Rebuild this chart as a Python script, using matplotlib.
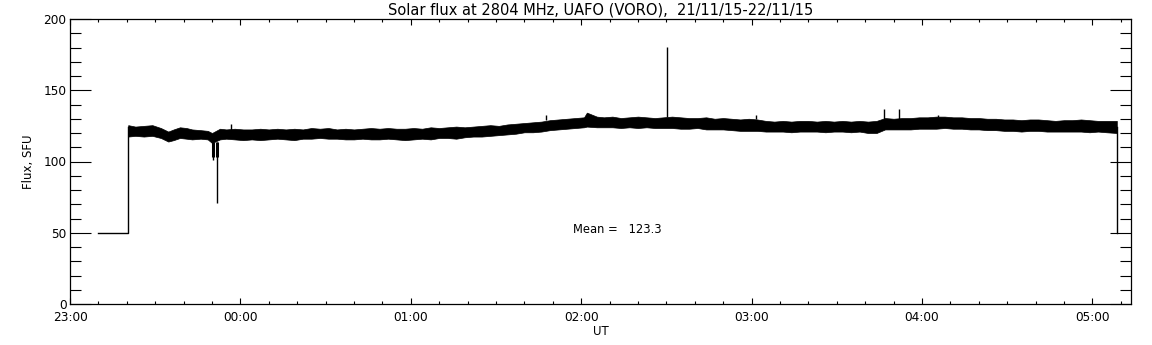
import matplotlib
matplotlib.use("Agg")
import matplotlib.pyplot as plt
from matplotlib.ticker import MultipleLocator, FixedLocator

# time in minutes after 23:00 UT (21/11/15)
band_t = [20.5, 23, 26, 29, 32, 34.6, 36.5, 38.7, 41, 43, 46, 48.5, 50,
          52.8, 55, 58, 61, 64, 67, 70, 73, 76, 79, 82, 85, 88, 91, 94, 97,
          100, 103, 106, 109, 112, 115, 118, 121, 124, 127, 130, 133, 136,
          139, 142, 145, 148, 151, 154, 157, 160, 163, 166, 169, 172, 175,
          178, 181, 182, 185.5, 188, 191, 194, 197, 200, 203, 206, 209, 212,
          215, 218, 221, 224, 227, 230, 233, 236, 239, 242, 245, 248, 251,
          254, 257, 260, 263, 266, 269, 272, 275, 278, 281, 284, 287, 290,
          293, 296, 299, 302, 305, 308, 311, 314, 317, 320, 323, 326, 329,
          332, 335, 338, 341, 344, 347, 350, 353, 356, 359, 362, 365, 368.6]
band_lo = [117.5, 118, 117.5, 118, 116.5, 114, 115, 116.5, 116, 115.5, 116,
           115.5, 113, 115.5, 116, 115.5, 115, 115.5, 115, 115.5, 116, 115.5,
           115, 116, 116, 116.5, 116, 116, 115.5, 115.5, 116, 115.5, 115.5,
           116, 115.5, 115, 115.5, 116, 115.5, 116.5, 116.5, 116, 117, 117.5,
           117.5, 118, 118.5, 119, 119.5, 120.5, 120.5, 121, 122, 122.5, 123,
           123.5, 124, 124.5, 124, 124, 124, 123.5, 124, 123.5, 124, 123.5,
           123.5, 123.5, 123, 123, 123.5, 122.5, 122.5, 122.5, 122, 121.5,
           121.5, 121.5, 121, 121, 121, 120.5, 121, 121, 121, 120.5, 121, 121,
           120.5, 121, 120, 120, 122.5, 122.5, 122.5, 122.5, 123, 123, 123,
           123.5, 123, 123, 122.5, 122.5, 122, 122, 121.5, 121.5, 121, 121.5,
           121.5, 121, 121, 121, 121, 121, 120.5, 121, 120.5, 120]
band_hi = [125.5, 124.5, 125, 125.5, 123.5, 121, 122.5, 124, 123.5, 122.5,
           122, 121.5, 120, 123, 122.5, 123, 122.5, 122.5, 123, 122.5, 123,
           122.5, 123, 122.5, 123.5, 123, 123.5, 122.5, 123, 122.5, 123, 123.5,
           123, 123.5, 123, 123, 123.5, 123, 124, 123.5, 124, 124.5, 124,
           124.5, 125, 125.5, 125, 126, 126.5, 127, 127.5, 128, 129, 129.5,
           130, 130.5, 131, 134.3, 131.5, 131, 131.5, 130.5, 131, 131.5, 131,
           130.5, 131, 131.5, 131, 130.5, 130.5, 131, 130, 130.5, 130, 129.5,
           130, 129.5, 128.5, 128, 128.5, 128, 128.5, 128.5, 128, 128.5, 128,
           128.5, 128, 128.5, 128, 128.5, 130.5, 130, 130.5, 130.5, 131, 131,
           131.5, 131.5, 131, 131, 130.5, 130.5, 130, 130, 129.5, 129.5, 129,
           129.5, 129.5, 129, 128.5, 129, 129, 129.5, 129, 128.5, 128.5, 128.5]

# short spikes and dips: time, base level, peak level
spike_t = [56.6, 167.6, 210.3, 241.7, 286.6, 292.0, 305.8]
spike_base = [122, 129, 131, 130, 130, 130, 131]
spike_top = [126.5, 132.6, 180.6, 132.6, 136.6, 136.6, 132.6]
dip_t = [50.4, 51.7]
dip_base = [114, 114]
dip_bottom = [101, 71]

# placeholder level before and after the record
start_t = [10.0, 20.5, 20.5]
start_v = [50, 50, 124]
end_t = [368.6, 368.6]
end_v = [124, 50]

mean_flux = 123.3
x_ticks = [0, 60, 120, 180, 240, 300, 360]
x_labels = ["23:00", "00:00", "01:00", "02:00", "03:00", "04:00", "05:00"]
y_ticks = [0, 50, 100, 150, 200]

fig = plt.figure(figsize=(11.52, 3.45), dpi=100)
ax = fig.add_axes([70 / 1152, 1 - 304 / 345, 1061 / 1152, 285 / 345])

ax.fill_between(band_t, band_lo, band_hi, color="black", linewidth=0.5)
ax.vlines(spike_t, spike_base, spike_top, color="black", linewidth=1.0)
ax.vlines(dip_t, dip_base, [103, 103], color="black", linewidth=2.2)
ax.vlines(dip_t, dip_base, dip_bottom, color="black", linewidth=1.0)
ax.plot(start_t, start_v, color="black", linewidth=1.0)
ax.plot(end_t, end_v, color="black", linewidth=1.0)

ax.text(177, 52, f"Mean =   {mean_flux:.1f}", fontsize=8.3, ha="left", va="center")

ax.set_xlim(0, 373.6)
ax.set_ylim(0, 200)
ax.xaxis.set_major_locator(FixedLocator(x_ticks))
ax.set_xticklabels(x_labels)
ax.xaxis.set_minor_locator(MultipleLocator(10))
ax.yaxis.set_major_locator(FixedLocator(y_ticks))
ax.yaxis.set_minor_locator(MultipleLocator(10))

ax.tick_params(which="both", direction="in", top=True, right=True, width=0.8,
               labelsize=8.7, colors="black")
ax.tick_params(axis="y", which="major", length=15, pad=2.5)
ax.tick_params(axis="y", which="minor", length=7.8)
ax.tick_params(axis="x", which="major", length=4.1, pad=5)
ax.tick_params(axis="x", which="minor", length=2)
for s in ax.spines.values():
    s.set_linewidth(0.9)

ax.set_title("Solar flux at 2804 MHz, UAFO (VORO),  21/11/15-22/11/15",
             fontsize=10.5, pad=3)
ax.set_xlabel("UT", fontsize=8.5, labelpad=1)
ax.set_ylabel("Flux, SFU", fontsize=8.5, labelpad=6)

fig.savefig("out.png", dpi=100)
